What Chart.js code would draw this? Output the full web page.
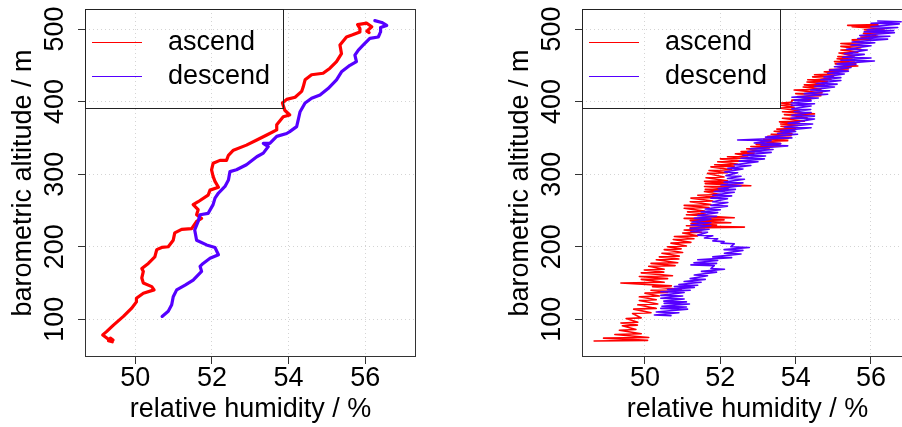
<!DOCTYPE html>
<html>
<head>
<meta charset="utf-8">
<script src="https://cdn.jsdelivr.net/npm/chart.js@4/dist/chart.umd.min.js"></script>
<style>
  html, body { margin: 0; padding: 0; background: #fff; overflow: hidden; width: 902px; height: 427px; }
  canvas { position: absolute; top: 0; }
  #smooth { left: 0; }
  #raw { left: 497px; }
</style>
</head>
<body>
<canvas id="smooth" width="451" height="427"></canvas>
<canvas id="raw" width="451" height="427"></canvas>
<script>
const seriesNames = ['ascend', 'descend']
const xTicks = [50, 52, 54, 56]
const yTicks = [100, 200, 300, 400, 500]
const xTitle = 'relative humidity / %'
const yTitle = 'barometric altitude / m'

// left panel: smoothed profiles
const smoothAscRH = [49.40, 49.30, 49.35, 49.42, 49.30, 49.15, 49.25, 49.43, 49.69, 49.90,
  50.03, 50.03, 50.21, 50.49, 50.43, 50.21, 50.17, 50.21, 50.17, 50.34,
  50.51, 50.56, 50.69, 50.86, 50.99, 51.03, 51.21, 51.47, 51.60, 51.73,
  51.60, 51.64, 51.51, 51.64, 51.90, 51.95, 52.17, 52.08, 52.03, 51.99,
  52.03, 52.21, 52.38, 52.43, 52.56, 52.90, 53.17, 53.43, 53.69, 53.69,
  53.86, 54.03, 53.90, 53.84, 53.95, 54.17, 54.34, 54.38, 54.43, 54.60,
  54.90, 55.08, 55.25, 55.38, 55.34, 55.51, 55.67, 55.86, 55.86, 55.80,
  56.04, 56.17, 56.04, 56.10]
const smoothAscAlt = [69, 70.5, 74, 71.5, 72.5, 78.5, 83, 92, 104, 115,
  124, 129, 136, 140.5, 145, 150, 157, 166, 170, 177,
  186, 196, 199, 200, 209, 219, 224, 225, 235, 239,
  244, 251, 258, 262, 271, 278, 282, 290, 297, 306,
  315, 319, 319, 326, 333, 340, 347, 354, 361, 368,
  379, 381.5, 388, 398, 403, 406, 414, 420, 430, 437,
  439, 446, 455, 466, 478, 489, 492, 496, 501, 506,
  508, 503, 497, 495]
const smoothDescRH = [56.25, 56.43, 56.56, 56.40, 56.40, 56.34, 56.12, 55.95, 55.82, 55.73,
  55.77, 55.60, 55.38, 55.25, 55.03, 54.82, 54.60, 54.43, 54.30, 54.26,
  54.21, 54.03, 53.95, 53.69, 53.51, 53.34, 53.47, 53.34, 53.17, 52.90,
  52.64, 52.47, 52.43, 52.34, 52.17, 52.08, 52.03, 51.90, 51.69, 51.64,
  51.55, 51.60, 51.86, 52.08, 52.17, 51.95, 51.77, 51.69, 51.73, 51.51,
  51.30, 51.08, 50.99, 50.95, 50.86, 50.70]
const smoothDescAlt = [511.5, 509, 505, 502, 496, 489, 487, 478, 471, 464,
  455, 450, 441, 430, 418, 409, 404.5, 398, 386, 377,
  365.5, 358.6, 356, 352, 342.5, 342.5, 338, 329, 324, 313,
  306, 303.5, 292, 283, 274, 267, 258, 246, 244, 235,
  223, 209, 202.5, 199, 189, 184, 177, 173, 166, 154,
  147, 140.5, 131, 120, 111, 104]

// right panel: raw (noisy) profiles
const rawAscRH = [
  48.65,50.07, 48.90,50.10, 49.20,49.90, 49.32,49.76, 49.40,49.80, 49.36,49.81, 49.50,49.90, 49.67,50.16, 49.70,50.30, 49.81,50.34,
  49.85,50.30, 49.85,50.38, 50.00,50.60, 50.16,50.96, 50.20,50.70, 49.36,50.51, 49.90,50.60, 49.85,50.73, 49.90,50.50, 49.98,50.51,
  50.10,50.80, 50.16,50.87, 50.30,50.90, 50.38,50.91, 50.45,51.00, 50.51,50.96, 50.60,51.10, 50.69,51.22, 50.75,51.30, 50.78,51.40,
  51.00,51.50, 51.04,51.58, 51.20,52.64, 51.10,51.90, 51.22,52.28, 51.20,52.10, 51.04,52.37, 51.10,51.60, 51.13,51.58, 51.04,51.70,
  51.04,51.75, 51.20,51.80, 51.22,51.93, 51.40,52.00, 51.58,52.11, 51.60,52.20, 51.58,52.81, 51.60,52.20, 51.58,52.19, 51.62,52.10,
  51.66,52.19, 51.70,52.30, 51.75,52.37, 51.85,52.45, 51.93,52.55, 52.00,52.70, 52.19,52.73, 52.40,52.90, 52.55,53.08, 52.70,53.30,
  52.81,53.61, 52.95,53.60, 53.08,53.79, 53.15,53.80, 53.26,53.88, 53.35,53.90, 53.43,53.96, 53.50,54.00, 53.61,54.05, 53.60,54.10,
  53.57,54.23, 53.65,54.30, 53.70,54.50, 53.65,54.10, 53.61,53.96, 53.62,53.90, 53.61,53.88, 53.90,54.40, 54.05,54.67, 54.00,54.70,
  53.96,54.67, 54.20,54.70, 54.23,54.76, 54.30,54.85, 54.32,54.94, 54.45,55.00, 54.50,55.03, 54.76,55.38, 54.90,55.40, 55.12,55.65,
  55.05,55.60, 55.03,55.56, 55.10,55.50, 55.12,55.56, 55.15,55.65, 55.20,55.73, 55.20,55.80, 55.20,55.82, 55.50,56.00, 55.73,56.18,
  55.80,56.30, 55.82,56.35, 55.50,56.20, 55.38,56.18]
const rawAscAlt = [
  70,71, 74,75, 79,80, 85,86, 91,92, 95,96, 101,102, 108,109, 114,115, 120,121,
  126,127, 131,132, 136,137, 140,141, 145,146, 150,151, 155,156, 159,160, 164,165, 168,169,
  173,174, 177,178, 182,183, 186,187, 191,192, 196,197, 200,201, 205,206, 210,211, 214,215,
  219,220, 223,224, 226,227, 229,230, 232,233, 236,237, 239,240, 244,245, 248,249, 253,254,
  257,258, 262,263, 267,268, 271,272, 276,277, 279,280, 283,284, 287,288, 290,291, 295,296,
  301,302, 305,306, 310,311, 313,314, 317,318, 321,322, 324,325, 328,329, 331,332, 335,336,
  338,339, 341,342, 345,346, 348,349, 352,353, 355,356, 359,360, 362,363, 366,367, 369,370,
  372,373, 377,378, 382,383, 386,387, 391,392, 395,396, 398,399, 402,403, 407,408, 411,412,
  416,417, 420,421, 423,424, 427,428, 430,431, 434,435, 437,438, 441,442, 444,445, 448,449,
  452,453, 455,456, 459,460, 462,463, 467,468, 471,472, 476,477, 480,481, 485,486, 489,490,
  494,495, 499,500, 503,504, 505,506]
const rawDescRH = [
  56.18,56.80, 56.00,56.75, 56.00,56.71, 55.90,56.60, 55.82,56.62, 55.70,56.50, 55.65,56.44, 55.50,56.10, 55.47,56.00, 55.35,55.90,
  55.29,55.82, 55.25,56.00, 55.20,56.09, 55.10,55.60, 55.03,55.47, 54.90,55.40, 54.85,55.29, 54.75,55.20, 54.67,55.20, 54.55,55.10,
  54.50,55.03, 54.40,54.90, 54.23,54.85, 53.90,54.60, 53.96,54.41, 53.88,54.50, 53.88,54.41, 53.90,54.40, 53.96,54.41, 53.90,54.50,
  53.88,54.50, 53.80,54.45, 53.70,54.41, 53.60,54.00, 53.52,54.05, 53.20,53.90, 52.46,53.35, 52.90,53.60, 53.08,53.79, 52.80,53.40,
  52.73,53.35, 52.60,53.20, 52.55,53.17, 52.50,53.00, 52.37,52.81, 52.20,52.60, 52.11,52.46, 52.15,52.55, 52.19,52.64, 52.10,52.60,
  52.02,52.55, 51.95,52.40, 51.84,52.37, 51.80,52.30, 51.75,52.19, 51.80,52.20, 51.75,52.19, 51.60,52.00, 51.49,51.93, 51.40,51.90,
  51.31,51.75, 51.25,51.75, 51.22,51.75, 51.20,51.70, 51.22,51.66, 51.40,51.80, 51.58,51.93, 51.80,52.10, 52.02,52.37, 52.28,52.77,
  52.10,52.60, 52.11,52.55, 51.80,52.30, 51.40,51.93, 51.30,51.90, 51.22,51.84, 51.75,52.11, 51.50,51.90, 51.31,51.66, 51.20,51.60,
  51.04,51.49, 50.90,51.40, 50.78,51.31, 50.60,51.20, 50.42,51.04, 50.42,51.00, 50.42,51.04, 50.50,51.10, 50.51,51.18, 50.45,51.10,
  50.42,51.13, 50.30,50.90, 50.25,50.69]
const rawDescAlt = [
  511,510, 508,507, 503,502, 499,498, 496,495, 491,490, 487,486, 482,481, 478,477, 472,471,
  466,465, 461,460, 457,456, 452,451, 448,447, 443,442, 439,438, 434,433, 430,429, 425,424,
  421,420, 416,415, 411,410, 406,405, 402,401, 398,397, 395,394, 390,389, 386,385, 381,380,
  377,376, 370,369, 365,364, 360,359, 356,355, 351,350, 347,346, 343,342, 340,339, 335,334,
  331,330, 326,325, 322,321, 318,317, 313,312, 308,307, 303,302, 298,297, 294,293, 289,288,
  285,284, 280,279, 276,275, 271,270, 267,266, 262,261, 257,256, 252,251, 248,247, 243,242,
  239,238, 234,233, 230,229, 225,224, 221,220, 216,215, 212,211, 208,207, 205,204, 200,199,
  196,195, 191,190, 186,185, 182,181, 178,177, 175,174, 170,169, 166,165, 161,160, 156,155,
  152,151, 148,147, 145,144, 141,140, 138,137, 133,132, 129,128, 125,124, 122,121, 118,117,
  115,114, 110,109, 106,105]

const RED = '#ff0000'
const BLUE = '#5500ff'
const FONT = "'Liberation Sans', Arial, Helvetica, sans-serif"

Chart.defaults.font.family = FONT
Chart.defaults.color = '#000'

const toPoints = (xs, ys) => xs.map((x, i) => ({x: x, y: ys[i]}))

// R style box around the plot region
const boxPlugin = {
  id: 'rBox',
  afterDraw(chart) {
    const {ctx, chartArea: a} = chart
    ctx.save()
    ctx.strokeStyle = '#333'
    ctx.lineWidth = 1
    ctx.strokeRect(a.left + 0.5, a.top + 0.5, a.width - 1, a.height - 1)
    ctx.restore()
  }
}

// legend box in the top left corner
const legendPlugin = {
  id: 'rLegend',
  afterDraw(chart) {
    const {ctx, chartArea: a} = chart
    ctx.save()
    ctx.strokeStyle = '#222'
    ctx.lineWidth = 1
    ctx.strokeRect(a.left + 0.5, a.top + 0.5, 198, 99)
    ctx.font = '27px ' + FONT
    ctx.textBaseline = 'middle'
    ctx.fillStyle = '#000'
    chart.data.datasets.forEach((ds, i) => {
      const y = Math.round(a.top + 33 + i * 33.5) + 0.5
      ctx.strokeStyle = ds.borderColor
      ctx.beginPath()
      ctx.moveTo(a.left + 7, y)
      ctx.lineTo(a.left + 57, y)
      ctx.stroke()
      ctx.fillText(ds.label, a.left + 83, y)
    })
    ctx.restore()
  }
}

const makeChart = (id, xMin, xMax, asc, desc, lineWidth) => {
  const ctx = document.getElementById(id).getContext('2d')
  return new Chart(ctx, {
    type: 'scatter',
    data: {
      datasets: [
        {label: seriesNames[0], data: asc, borderColor: RED, borderWidth: lineWidth, order: 1},
        {label: seriesNames[1], data: desc, borderColor: BLUE, borderWidth: lineWidth, order: 0},
      ].map(ds => Object.assign(ds, {showLine: true, pointRadius: 0, fill: false, tension: 0,
        borderJoinStyle: 'round', borderCapStyle: 'round'}))
    },
    options: {
      responsive: false,
      animation: false,
      devicePixelRatio: 1,
      layout: {padding: {left: 0, right: 35, top: 9, bottom: 0}},
      plugins: {legend: {display: false}, tooltip: {enabled: false}},
      scales: {
        x: {
          type: 'linear', min: xMin, max: xMax,
          afterBuildTicks: s => { s.ticks = xTicks.map(v => ({value: v})) },
          afterFit: s => { s.height = 70; s.paddingLeft = 0; s.paddingRight = 0 },
          grid: {color: '#d4d4d4', tickColor: '#333', tickLength: 7, tickBorderDash: []},
          border: {display: false, dash: [1, 3]},
          ticks: {font: {size: 27}, padding: -2, minRotation: 0, maxRotation: 0},
          title: {display: true, text: xTitle, font: {size: 27}, padding: {top: 0, bottom: 1}}
        },
        y: {
          type: 'linear', min: 48.05, max: 527.56,
          afterBuildTicks: s => { s.ticks = yTicks.map(v => ({value: v})) },
          afterFit: s => { s.width = 85; s.paddingTop = 0; s.paddingBottom = 0 },
          grid: {color: '#d4d4d4', tickColor: '#333', tickLength: 7, tickBorderDash: []},
          border: {display: false, dash: [1, 3]},
          ticks: {font: {size: 27}, padding: 0, minRotation: 90, maxRotation: 90, crossAlign: 'center'},
          title: {display: true, text: yTitle, font: {size: 27}, padding: {top: 7, bottom: 0}}
        }
      }
    },
    plugins: [boxPlugin, legendPlugin]
  })
}

makeChart('smooth', 48.688, 57.324,
  toPoints(smoothAscRH, smoothAscAlt), toPoints(smoothDescRH, smoothDescAlt), 3.2)
makeChart('raw', 48.328, 57.115,
  toPoints(rawAscRH, rawAscAlt), toPoints(rawDescRH, rawDescAlt), 1.6)
</script>
</body>
</html>
